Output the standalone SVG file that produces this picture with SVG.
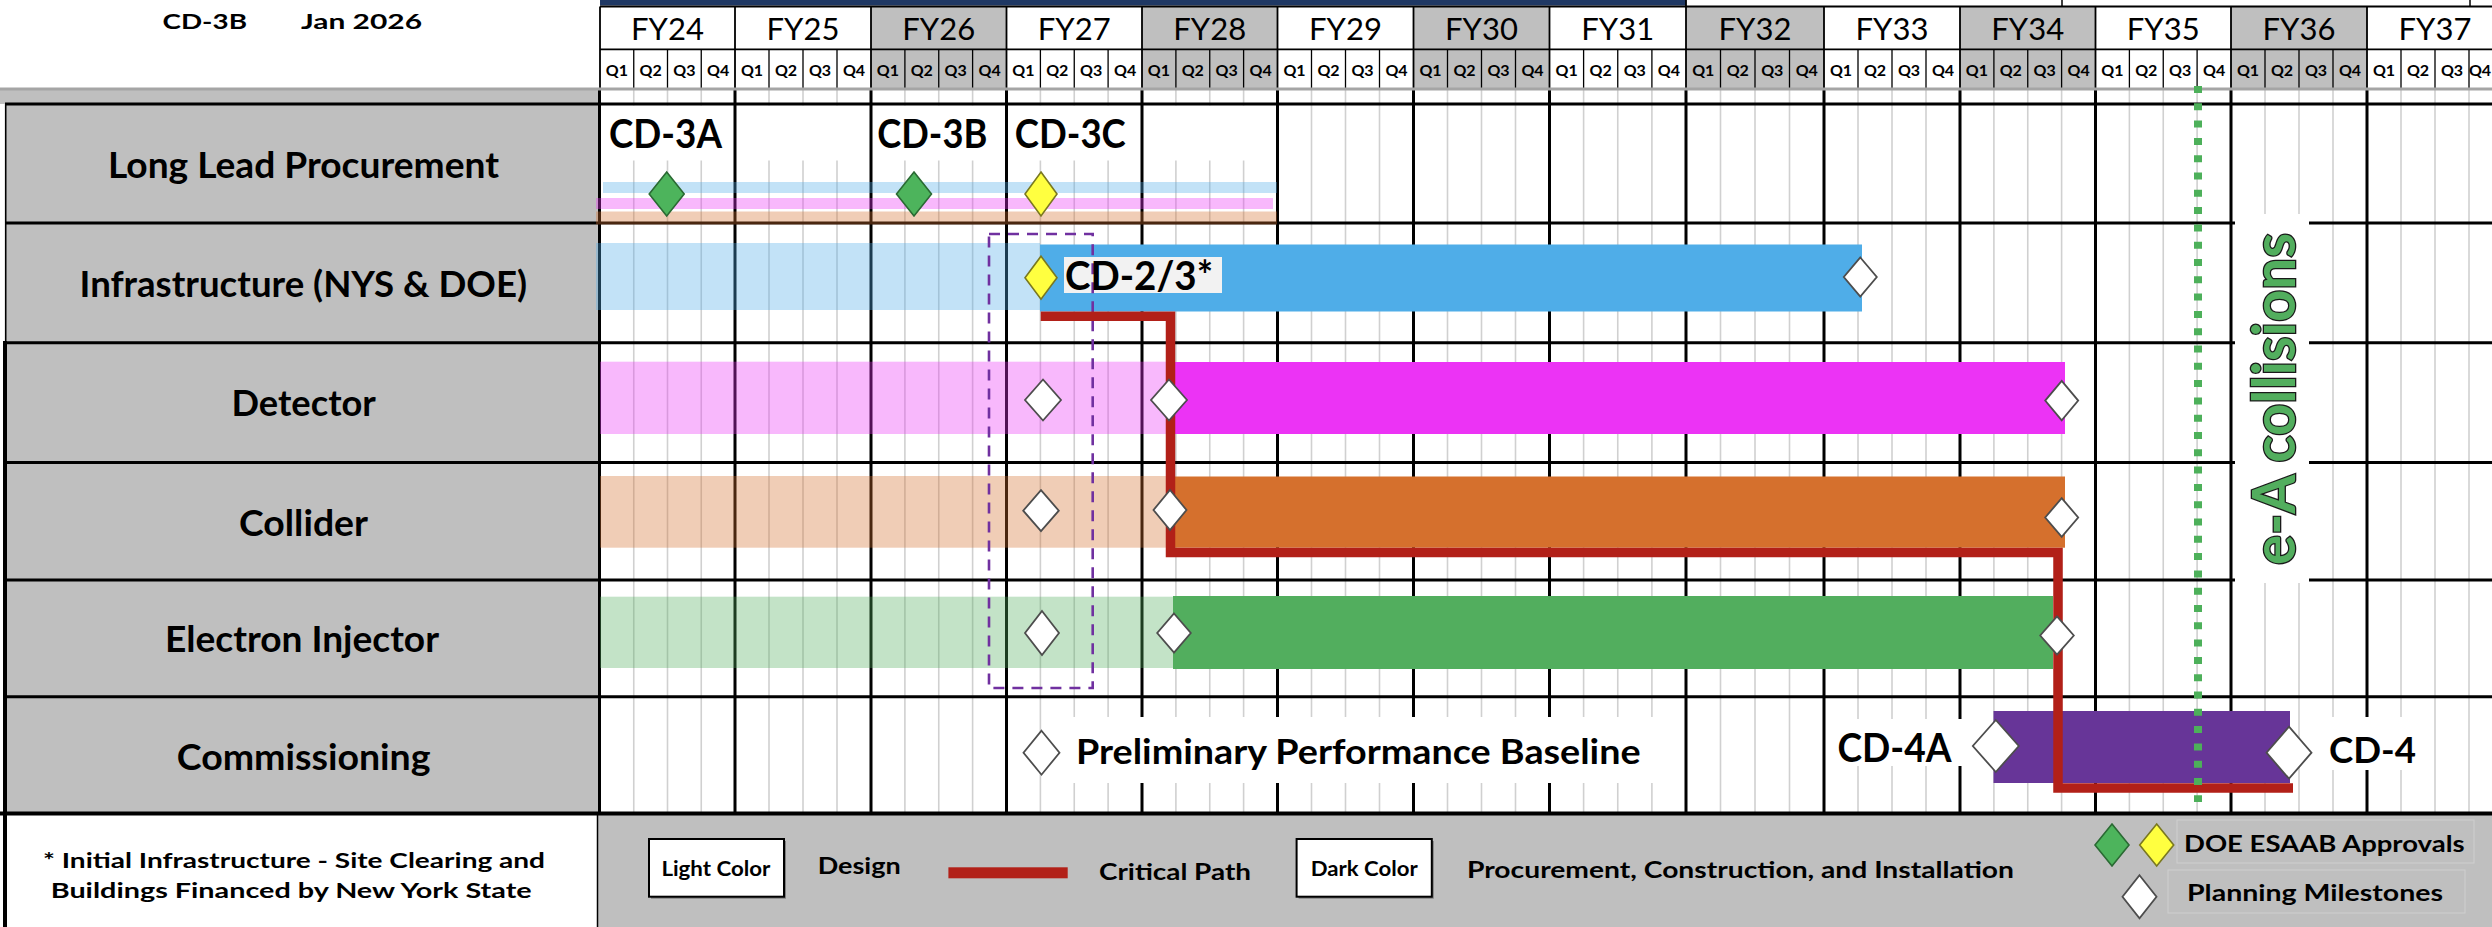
<svg xmlns="http://www.w3.org/2000/svg" width="2492" height="927" viewBox="0 0 2492 927">
<defs>
<style>
.t{font-family:Lato,'Liberation Sans',Arial,sans-serif;fill:#000}
.b{font-weight:bold}
.fy{font-size:31px;text-anchor:middle}
.q{font-size:16px;font-weight:bold;text-anchor:middle}
.rowlab{font-size:35.5px;font-weight:bold}
.ms{font-size:39.5px;font-weight:bold}
.leg{font-size:23px;font-weight:bold}
.box{font-size:21px;font-weight:bold}
.ql{stroke:#D0D0D0;stroke-width:1.6}
.yl{stroke:#000;stroke-width:3}
.rl{stroke:#000;stroke-width:3}
.hl{stroke:#000;stroke-width:1.8}
.hq{stroke:#000;stroke-width:1.3}
.dw{fill:#fff;stroke:#4d4d4d;stroke-width:1.8}
.dg{fill:#4DB45C;stroke:#2A6A33;stroke-width:1.6}
.dy{fill:#FFFF40;stroke:#7A7820;stroke-width:1.6}
.lt{opacity:0.35}
.cb{fill:#4FADE8}.cp{fill:#EC33F5}.co{fill:#D5702D}.cg{fill:#52AE5E}
.wb{fill:#fff}
.gy{fill:#BFBFBF}
</style>
</defs>
<rect x="0" y="0" width="2492" height="927" fill="#fff"/>

<g id="header">
<rect x="600" y="0" width="1086" height="5.5" fill="#1F3864"/>
<line x1="1686" y1="0" x2="1686" y2="6.5" class="hl"/>
<line x1="2062" y1="0" x2="2062" y2="6.5" stroke="#000" stroke-width="1.5"/>
<line x1="2470" y1="0" x2="2470" y2="6.5" stroke="#000" stroke-width="1.5"/>
<text class="t b" x="162.5" y="29.3" font-size="21.5" textLength="84.5" lengthAdjust="spacingAndGlyphs">CD-3B</text>
<text class="t b" x="301" y="29.3" font-size="21.5" textLength="121" lengthAdjust="spacingAndGlyphs">Jan 2026</text>
<g id="year-cells">
<rect x="600" y="6.5" width="135" height="81.5" fill="#fff"/>
<rect x="735" y="6.5" width="136" height="81.5" fill="#fff"/>
<rect x="871" y="6.5" width="135.5" height="81.5" class="gy"/>
<rect x="1006.5" y="6.5" width="135.5" height="81.5" fill="#fff"/>
<rect x="1142" y="6.5" width="135.5" height="81.5" class="gy"/>
<rect x="1277.5" y="6.5" width="136" height="81.5" fill="#fff"/>
<rect x="1413.5" y="6.5" width="136" height="81.5" class="gy"/>
<rect x="1549.5" y="6.5" width="136.5" height="81.5" fill="#fff"/>
<rect x="1686" y="6.5" width="138" height="81.5" class="gy"/>
<rect x="1824" y="6.5" width="136" height="81.5" fill="#fff"/>
<rect x="1960" y="6.5" width="135.5" height="81.5" class="gy"/>
<rect x="2095.5" y="6.5" width="135.5" height="81.5" fill="#fff"/>
<rect x="2231" y="6.5" width="136" height="81.5" class="gy"/>
<rect x="2367" y="6.5" width="136" height="81.5" fill="#fff"/>
</g>
<line x1="600" y1="6.5" x2="2492" y2="6.5" class="hl"/>
<line x1="600" y1="49.3" x2="2492" y2="49.3" class="hl"/>
<g id="header-lines">
<path class="hl" d="M600 6.5V88M735 6.5V88M871 6.5V88M1006.5 6.5V88M1142 6.5V88M1277.5 6.5V88M1413.5 6.5V88M1549.5 6.5V88M1686 6.5V88M1824 6.5V88M1960 6.5V88M2095.5 6.5V88M2231 6.5V88M2367 6.5V88"/>
<path class="hq" d="M633.75 49.3V88M667.5 49.3V88M701.25 49.3V88M769 49.3V88M803 49.3V88M837 49.3V88M904.9 49.3V88M938.75 49.3V88M972.6 49.3V88M1040.4 49.3V88M1074.25 49.3V88M1108.1 49.3V88M1175.9 49.3V88M1209.75 49.3V88M1243.6 49.3V88M1311.5 49.3V88M1345.5 49.3V88M1379.5 49.3V88M1447.5 49.3V88M1481.5 49.3V88M1515.5 49.3V88M1583.6 49.3V88M1617.75 49.3V88M1651.9 49.3V88M1720.5 49.3V88M1755 49.3V88M1789.5 49.3V88M1858 49.3V88M1892 49.3V88M1926 49.3V88M1993.9 49.3V88M2027.75 49.3V88M2061.6 49.3V88M2129.4 49.3V88M2163.25 49.3V88M2197.1 49.3V88M2265 49.3V88M2299 49.3V88M2333 49.3V88M2401 49.3V88M2435 49.3V88M2469 49.3V88"/>
</g>
<g id="fy-labels" class="t fy">
<text x="667.5" y="40">FY24</text><text x="803" y="40">FY25</text><text x="938.75" y="40">FY26</text><text x="1074.25" y="40">FY27</text><text x="1209.75" y="40">FY28</text><text x="1345.5" y="40">FY29</text><text x="1481.5" y="40">FY30</text><text x="1617.75" y="40">FY31</text><text x="1755" y="40">FY32</text><text x="1892" y="40">FY33</text><text x="2027.75" y="40">FY34</text><text x="2163.25" y="40">FY35</text><text x="2299" y="40">FY36</text><text x="2435" y="40">FY37</text>
</g>
<g id="q-labels" class="t q">
<text x="616.9" y="76">Q1</text><text x="650.6" y="76">Q2</text><text x="684.4" y="76">Q3</text><text x="718.1" y="76">Q4</text>
<text x="752" y="76">Q1</text><text x="786" y="76">Q2</text><text x="820" y="76">Q3</text><text x="854" y="76">Q4</text>
<text x="887.9" y="76">Q1</text><text x="921.8" y="76">Q2</text><text x="955.7" y="76">Q3</text><text x="989.6" y="76">Q4</text>
<text x="1023.4" y="76">Q1</text><text x="1057.3" y="76">Q2</text><text x="1091.2" y="76">Q3</text><text x="1125.1" y="76">Q4</text>
<text x="1158.9" y="76">Q1</text><text x="1192.8" y="76">Q2</text><text x="1226.7" y="76">Q3</text><text x="1260.6" y="76">Q4</text>
<text x="1294.5" y="76">Q1</text><text x="1328.5" y="76">Q2</text><text x="1362.5" y="76">Q3</text><text x="1396.5" y="76">Q4</text>
<text x="1430.5" y="76">Q1</text><text x="1464.5" y="76">Q2</text><text x="1498.5" y="76">Q3</text><text x="1532.5" y="76">Q4</text>
<text x="1566.6" y="76">Q1</text><text x="1600.7" y="76">Q2</text><text x="1634.8" y="76">Q3</text><text x="1668.9" y="76">Q4</text>
<text x="1703.3" y="76">Q1</text><text x="1737.8" y="76">Q2</text><text x="1772.3" y="76">Q3</text><text x="1806.8" y="76">Q4</text>
<text x="1841" y="76">Q1</text><text x="1875" y="76">Q2</text><text x="1909" y="76">Q3</text><text x="1943" y="76">Q4</text>
<text x="1976.9" y="76">Q1</text><text x="2010.8" y="76">Q2</text><text x="2044.7" y="76">Q3</text><text x="2078.6" y="76">Q4</text>
<text x="2112.4" y="76">Q1</text><text x="2146.3" y="76">Q2</text><text x="2180.2" y="76">Q3</text><text x="2214.1" y="76">Q4</text>
<text x="2248" y="76">Q1</text><text x="2282" y="76">Q2</text><text x="2316" y="76">Q3</text><text x="2350" y="76">Q4</text>
<text x="2384" y="76">Q1</text><text x="2418" y="76">Q2</text><text x="2452" y="76">Q3</text><text x="2480" y="76">Q4</text>
</g>
</g>

<g id="panels">
<rect x="0" y="88" width="598" height="16" class="gy"/>
<rect x="6" y="104" width="592" height="710" class="gy"/>
<rect x="598" y="815" width="1894" height="112" class="gy"/>
<rect x="7" y="815" width="590" height="112" fill="#fff"/>
<line x1="597.5" y1="814" x2="597.5" y2="927" stroke="#000" stroke-width="1.5"/>
<line x1="5.7" y1="104" x2="5.7" y2="343" stroke="#000" stroke-width="1.6"/>
<line x1="5" y1="341" x2="5" y2="927" stroke="#000" stroke-width="4"/>
</g>

<g id="grid">
<path class="ql" d="M633.75 90V813M667.5 90V813M701.25 90V813M769 90V813M803 90V813M837 90V813M904.9 90V813M938.75 90V813M972.6 90V813M1040.4 90V813M1074.25 90V813M1108.1 90V813M1175.9 90V813M1209.75 90V813M1243.6 90V813M1311.5 90V813M1345.5 90V813M1379.5 90V813M1447.5 90V813M1481.5 90V813M1515.5 90V813M1583.6 90V813M1617.75 90V813M1651.9 90V813M1720.5 90V813M1755 90V813M1789.5 90V813M1858 90V813M1892 90V813M1926 90V813M1993.9 90V813M2027.75 90V813M2061.6 90V813M2129.4 90V813M2163.25 90V813M2197.1 90V813M2265 90V813M2299 90V813M2333 90V813M2401 90V813M2435 90V813M2469 90V813"/>
<rect x="601.5" y="105.5" width="675.5" height="55" fill="#fff"/>
<path class="yl" d="M599.5 88V814M735 88V814M871 88V814M1006.5 88V814M1142 88V814M1277.5 88V814M1413.5 88V814M1549.5 88V814M1686 88V814M1824 88V814M1960 88V814M2095.5 88V814M2231 88V814M2367 88V814"/>
<line x1="0" y1="89" x2="2492" y2="89" stroke="#A5A5A5" stroke-width="3"/>
<path class="rl" d="M5 104H2492M5 223H2492M5 342.7H2492M5 462.5H2492M5 580H2492M5 696.7H2492"/>
<line x1="0" y1="813.5" x2="2492" y2="813.5" stroke="#000" stroke-width="4"/>
</g>

<g id="node-long-lead">
<text class="t rowlab" x="108" y="177.5" textLength="391" lengthAdjust="spacingAndGlyphs">Long Lead Procurement</text>
<rect x="603" y="182" width="674" height="11" class="cb lt"/>
<rect x="596" y="198" width="677" height="11" class="cp lt"/>
<rect x="596" y="211.5" width="681" height="13" class="co lt"/>
</g>
<g id="node-infrastructure">
<text class="t rowlab" x="79.6" y="297" textLength="447.4" lengthAdjust="spacingAndGlyphs">Infrastructure (NYS &amp; DOE)</text>
<rect x="596" y="243" width="444" height="67" class="cb lt"/>
<rect x="1040" y="244.5" width="822" height="67" class="cb"/>
</g>
<g id="node-detector">
<text class="t rowlab" x="231.5" y="416" textLength="144.3" lengthAdjust="spacingAndGlyphs">Detector</text>
<rect x="600" y="361.7" width="571" height="72.3" class="cp lt"/>
<rect x="1171" y="362" width="894" height="72" class="cp"/>
</g>
<g id="node-collider">
<text class="t rowlab" x="239" y="536" textLength="129" lengthAdjust="spacingAndGlyphs">Collider</text>
<rect x="600" y="476" width="570" height="71.7" class="co lt"/>
<rect x="1170" y="476.5" width="895" height="71.2" class="co"/>
</g>
<g id="node-electron-injector">
<text class="t rowlab" x="165" y="652" textLength="274" lengthAdjust="spacingAndGlyphs">Electron Injector</text>
<rect x="600" y="596.7" width="573" height="71.3" class="cg lt"/>
<rect x="1173" y="596" width="880" height="73" class="cg"/>
</g>
<g id="node-commissioning">
<text class="t rowlab" x="176.8" y="769.7" textLength="253.7" lengthAdjust="spacingAndGlyphs">Commissioning</text>
<rect x="1993.5" y="711" width="296.5" height="72" fill="#673598"/>
</g>

<g id="label-boxes">
<rect x="1058" y="717" width="602" height="66" class="wb"/>
<rect x="1832" y="719" width="156" height="47" class="wb"/>
<rect x="2313" y="717" width="117" height="53" class="wb"/>
<rect x="2235" y="214" width="74" height="369" class="wb"/>
<rect x="1064" y="257" width="158" height="36" fill="#F2F2F2"/>
</g>

<g id="connectors">
<rect id="ppb-window" x="989" y="234" width="103.7" height="454" fill="none" stroke="#7030A0" stroke-width="2.6" stroke-dasharray="11 8"/>
<path id="critical-path" d="M1040.7 316.2H1170.5V552.5H2058V788H2293" fill="none" stroke="#B22018" stroke-width="9.5" stroke-linejoin="miter"/>
<line id="ea-line" x1="2198" y1="86" x2="2198" y2="802" stroke="#4DB05A" stroke-width="8" stroke-dasharray="7 10.3"/>
</g>

<g id="milestones">
<polygon class="dg" points="666.7,172 684.2,194 666.7,216 649.2,194"/>
<polygon class="dg" points="914,172 931.5,194 914,216 896.5,194"/>
<polygon class="dy" points="1041,172 1057,194 1041,216 1025,194"/>
<polygon class="dy" points="1041,256.2 1057,277.7 1041,299.2 1025,277.7"/>
<polygon class="dw" points="1860.3,257.5 1876.8,277 1860.3,296.5 1843.8,277"/>
<polygon class="dw" points="1043,379.5 1061,400 1043,420.5 1025,400"/>
<polygon class="dw" points="1169,379.5 1187,400 1169,420.5 1151,400"/>
<polygon class="dw" points="2061.7,380.9 2078.2,400.6 2061.7,420.4 2045.2,400.6"/>
<polygon class="dw" points="1041,490.2 1058.8,510.7 1041,531.2 1023.2,510.7"/>
<polygon class="dw" points="1170,490 1186.5,510 1170,530 1153.5,510"/>
<polygon class="dw" points="2061.7,498.1 2078.2,517.5 2061.7,536.9 2045.2,517.5"/>
<polygon class="dw" points="1042,611 1059,633 1042,655 1025,633"/>
<polygon class="dw" points="1174,613.5 1190.8,633 1174,652.5 1157.2,633"/>
<polygon class="dw" points="2057,616.3 2073.8,635.5 2057,654.7 2040.2,635.5"/>
<polygon class="dw" points="1041.5,730.7 1059.5,752.7 1041.5,774.7 1023.5,752.7"/>
<polygon class="dw" points="1995.8,720 2018.8,746 1995.8,772 1972.8,746"/>
<polygon class="dw" points="2289,726.7 2311.5,752.7 2289,778.7 2266.5,752.7"/>
</g>

<g id="milestone-labels">
<text class="t ms" x="609" y="148.3" textLength="113" lengthAdjust="spacingAndGlyphs">CD-3A</text>
<text class="t ms" x="877.3" y="148.3" textLength="110" lengthAdjust="spacingAndGlyphs">CD-3B</text>
<text class="t ms" x="1014.8" y="148.3" textLength="111" lengthAdjust="spacingAndGlyphs">CD-3C</text>
<text class="t ms" x="1065" y="290" font-size="39" textLength="148" lengthAdjust="spacingAndGlyphs">CD-2/3*</text>
<text class="t b" x="1076" y="764" font-size="35" textLength="564.6" lengthAdjust="spacingAndGlyphs">Preliminary Performance Baseline</text>
<text class="t b" x="1837.5" y="761.7" font-size="40" textLength="114" lengthAdjust="spacingAndGlyphs">CD-4A</text>
<text class="t b" x="2329" y="763.3" font-size="37" textLength="87" lengthAdjust="spacingAndGlyphs">CD-4</text>
<text class="t b" transform="translate(2295,399) rotate(-90)" x="-166" y="0" font-size="58.7" textLength="332" lengthAdjust="spacingAndGlyphs" style="fill:#52AE5E;stroke:#1a1a1a;stroke-width:2.6;paint-order:stroke">e-A collisions</text>
</g>

<g id="footnote">
<text class="t b" x="43" y="868" font-size="21.5" textLength="502" lengthAdjust="spacingAndGlyphs">* Initial Infrastructure - Site Clearing and</text>
<text class="t b" x="50.7" y="898" font-size="21.5" textLength="481" lengthAdjust="spacingAndGlyphs">Buildings Financed by New York State</text>
</g>

<g id="legend">
<rect x="651" y="841" width="135" height="57.7" fill="#7f7f7f"/>
<rect x="649" y="839" width="135" height="57.7" fill="#fff" stroke="#000" stroke-width="2"/>
<text class="t box" x="661.4" y="875.7" textLength="109" lengthAdjust="spacingAndGlyphs">Light Color</text>
<text class="t leg" x="817.7" y="874" textLength="83" lengthAdjust="spacingAndGlyphs">Design</text>
<rect x="948.4" y="867.3" width="119.3" height="11" fill="#B22018"/>
<text class="t leg" x="1099" y="880" textLength="152" lengthAdjust="spacingAndGlyphs">Critical Path</text>
<rect x="1298.6" y="841" width="135.2" height="57.7" fill="#7f7f7f"/>
<rect x="1296.6" y="839" width="135.2" height="57.7" fill="#fff" stroke="#000" stroke-width="2"/>
<text class="t box" x="1310.7" y="875.7" textLength="107" lengthAdjust="spacingAndGlyphs">Dark Color</text>
<text class="t leg" x="1467" y="878.3" textLength="547" lengthAdjust="spacingAndGlyphs">Procurement, Construction, and Installation</text>
<rect x="2177" y="820" width="297" height="43" fill="none" stroke="#CFCFCF" stroke-width="1"/>
<rect x="2168" y="870" width="297" height="43" fill="none" stroke="#CFCFCF" stroke-width="1"/>
<polygon class="dg" points="2112,824 2129,845 2112,866 2095,845"/>
<polygon class="dy" points="2156.7,824 2173.7,845 2156.7,866 2139.7,845"/>
<polygon class="dw" points="2139.5,875.2 2156.5,896.7 2139.5,918.2 2122.5,896.7"/>
<text class="t leg" x="2184" y="852" textLength="280.6" lengthAdjust="spacingAndGlyphs">DOE ESAAB Approvals</text>
<text class="t leg" x="2187" y="900.7" textLength="256" lengthAdjust="spacingAndGlyphs">Planning Milestones</text>
</g>
</svg>
